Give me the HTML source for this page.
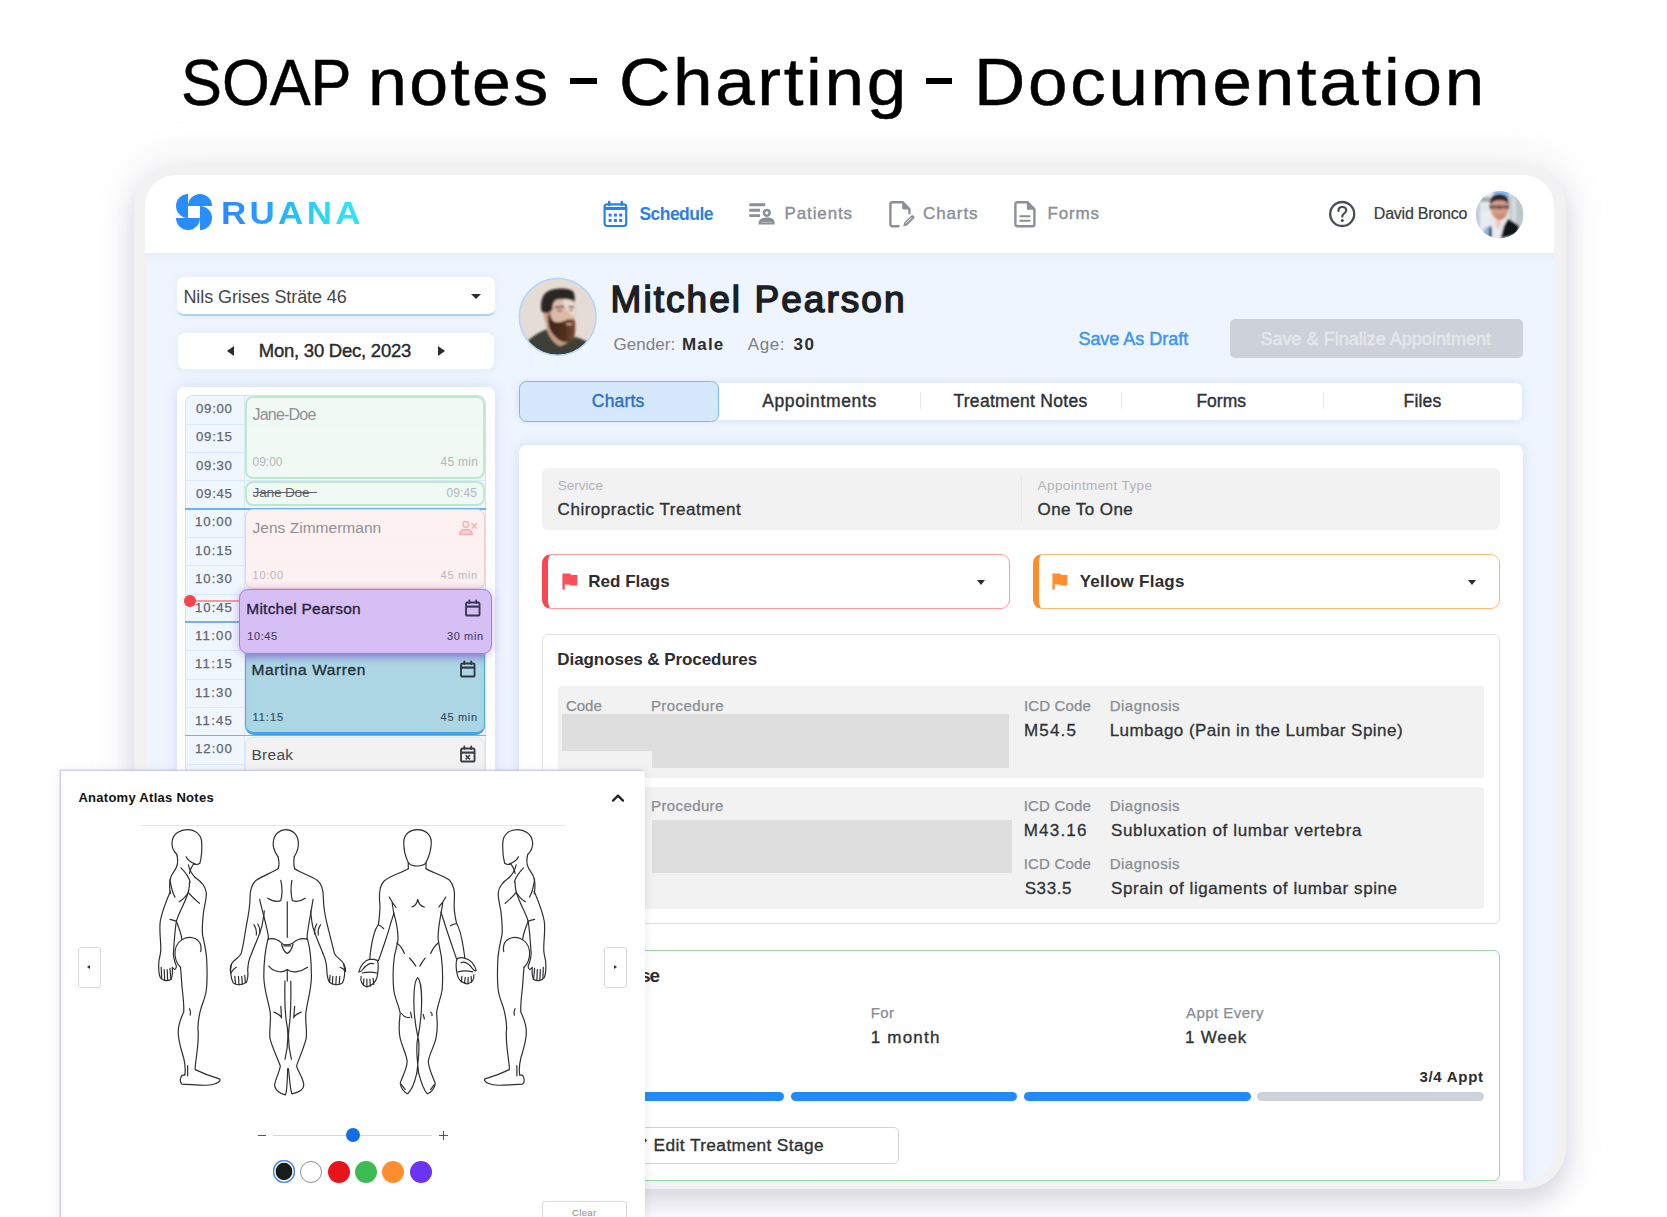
<!DOCTYPE html>
<html lang="en">
<head>
<meta charset="utf-8">
<title>SOAP notes - Charting - Documentation</title>
<style>
*{box-sizing:border-box;margin:0;padding:0}
html,body{width:1667px;height:1217px;overflow:hidden;background:#fff;font-family:"Liberation Sans",sans-serif}
.a{position:absolute}
.t{position:absolute;white-space:pre;font-family:"Liberation Sans",sans-serif}
#frame{position:absolute;left:133.5px;top:164px;width:1432.5px;height:1025px;border-radius:42px;background:#f2f2f3;
  box-shadow:0 14px 22px 0 rgba(140,140,168,.27),0 0 38px 8px rgba(160,160,182,.15)}
#win{position:absolute;left:145px;top:175px;width:1409px;height:1005.5px;border-radius:31px;overflow:hidden;background:#eef5ff}
#wc{position:absolute;left:-145px;top:-175px;width:1667px;height:1217px}
#ov{position:absolute;left:61px;top:770.8px;width:583.7px;height:460px;background:#fff;border-radius:0 3px 0 0;overflow:hidden;
  box-shadow:-1.5px -1.5px 0 0 rgba(203,205,226,.9),0 1px 9px 1px rgba(90,95,130,.13)}
#oc{position:absolute;left:-61px;top:-770.8px;width:1667px;height:1217px}
.hl{position:absolute;left:184.5px;width:301px;height:1px;background:#d9e8fb}
.hb{position:absolute;left:184.5px;width:301px;height:1.6px;background:#6cb2f6}
.blk{position:absolute;border-radius:8px}
</style>
</head>
<body>
<div id="top" class="a" style="left:0;top:0;width:1667px;height:1217px">
<div class="a" style="left:570.4px;top:78.4px;width:26.5px;height:5.4px;background:#000"></div>
<div class="a" style="left:925.7px;top:78.4px;width:26.6px;height:5.4px;background:#000"></div>
<span class="t" style="left:181.21px;top:49.98px;font-size:65px;line-height:65px;font-weight:400;color:#000;letter-spacing:0.000px;-webkit-text-stroke:0.5px #000;transform-origin:0 0;transform:scaleX(0.9443);">SOAP</span>
<span class="t" style="left:368.36px;top:49.13px;font-size:66px;line-height:66px;font-weight:400;color:#000;letter-spacing:2.165px;-webkit-text-stroke:0.5px #000;transform-origin:0 0;transform:scaleX(1.0590);">notes</span>
<span class="t" style="left:618.97px;top:49.13px;font-size:66px;line-height:66px;font-weight:400;color:#000;letter-spacing:2.471px;-webkit-text-stroke:0.5px #000;transform-origin:0 0;transform:scaleX(1.0767);">Charting</span>
<span class="t" style="left:973.82px;top:49.13px;font-size:66px;line-height:66px;font-weight:400;color:#000;letter-spacing:2.541px;-webkit-text-stroke:0.5px #000;transform-origin:0 0;transform:scaleX(1.0753);">Documentation</span>
</div>

<div id="frame"></div>
<div id="win"><div id="wc">
  <!-- header -->
  <div class="a" style="left:145px;top:175px;width:1409px;height:78px;background:#fff"></div>
  <div class="a" style="left:145px;top:253px;width:1409px;height:10px;background:linear-gradient(#e7eefa,#eef5ff)"></div>

  <!-- sidebar: location select -->
  <div class="a" style="left:177px;top:277px;width:318px;height:39px;background:#fff;border-radius:7px;border-bottom:2px solid #add2fa;box-shadow:0 0 8px rgba(100,125,190,.08)"></div>
  <div class="a" style="left:470.6px;top:294.4px;width:0;height:0;border-left:5px solid transparent;border-right:5px solid transparent;border-top:5.4px solid #2c2c2c"></div>
  <!-- date -->
  <div class="a" style="left:177.5px;top:333px;width:316.5px;height:36px;background:#fff;border-radius:7px;box-shadow:0 0 8px rgba(100,125,190,.09)"></div>
  <div class="a" style="left:227px;top:346px;width:0;height:0;border-top:5.4px solid transparent;border-bottom:5.4px solid transparent;border-right:7px solid #2c2c2c"></div>
  <div class="a" style="left:437.6px;top:346px;width:0;height:0;border-top:5.4px solid transparent;border-bottom:5.4px solid transparent;border-left:7px solid #2c2c2c"></div>

  <!-- calendar card -->
  <div class="a" style="left:177px;top:386.5px;width:318px;height:420px;background:#fff;border-radius:8px;box-shadow:0 0 14px rgba(105,125,180,.2)"></div>
  <div class="a" style="left:184.5px;top:395px;width:301px;height:400px;background:#f0f6fe;border:1px solid #cfe3fa;border-radius:8px 8px 0 0"></div>
  <!-- time column separator -->
  <div class="a" style="left:244px;top:396px;width:1px;height:400px;background:#d9e8fb"></div>
  <!-- quarter lines -->
  <div class="hl" style="top:423.5px"></div><div class="hl" style="top:451.8px"></div><div class="hl" style="top:480.2px"></div>
  <div class="hb" style="top:508px"></div>
  <div class="hl" style="top:536.8px"></div><div class="hl" style="top:565.2px"></div><div class="hl" style="top:593.5px"></div>
  <div class="hb" style="top:621.3px"></div>
  <div class="hl" style="top:650.2px"></div><div class="hl" style="top:678.5px"></div><div class="hl" style="top:706.8px"></div>
  <div class="hb" style="top:734.6px"></div>
  <div class="hl" style="top:763.5px"></div>
  <!-- appointment blocks -->
  <div class="blk" style="left:244.5px;top:396px;width:240.3px;height:82.5px;background:rgba(239,249,242,.9);border:2px solid #c0e8ca"></div>
  <div class="blk" style="left:244.5px;top:480.5px;width:240.3px;height:25.5px;background:rgba(239,249,242,.9);border:2px solid #c0e8ca"></div>
  <div class="blk" style="left:244.5px;top:509.3px;width:240.3px;height:79.5px;background:rgba(253,240,240,.94);border:1.6px solid #f9cbcb"></div>
  <div class="blk" style="left:244.5px;top:652px;width:240.6px;height:82.5px;background:#acd6e4;border:1.5px solid #4aaee6;border-bottom:3px solid #3fa5e8;border-radius:4px 4px 9px 9px;box-shadow:inset 0 9px 9px -5px rgba(125,95,205,.55)"></div>
  <div class="blk" style="left:244.5px;top:737px;width:240.6px;height:60px;background:#f2f2f2;border:1px solid #e4e6ea"></div>
  <div class="a" style="left:252.6px;top:491.8px;width:64.4px;height:1.5px;background:#5f6268"></div>
  <!-- now line -->
  <div class="a" style="left:190px;top:600px;width:52px;height:1.5px;background:#f59a9a"></div>
  <div class="a" style="left:184px;top:595px;width:11.5px;height:11.5px;border-radius:50%;background:#f5474b"></div>
  <!-- active block -->
  <div class="blk" style="left:239px;top:589px;width:253px;height:64.5px;background:#d5bff5;border:1.5px solid #a57ce8;border-radius:9px;box-shadow:0 1px 10px rgba(120,80,200,.42)"></div>

  <!-- patient avatar -->
  <svg class="a" style="left:518px;top:277px" width="80" height="80" viewBox="0 0 80 80">
    <defs><clipPath id="c1"><circle cx="39.7" cy="39.8" r="38.2"/></clipPath><filter id="b1" x="-20%" y="-20%" width="140%" height="140%"><feGaussianBlur stdDeviation="0.9"/></filter></defs>
    <g clip-path="url(#c1)"><rect width="80" height="80" fill="#e6dcd6"/>
    <g filter="url(#b1)">
      <!-- shirt -->
      <path d="M4 70 C12 60 20 56 29 52 L38 66 L52 62 L58 60 C66 62 72 66 80 72 L80 82 L0 82 Z" fill="#3c4038"/>
      <!-- neck -->
      <path d="M27 40 L29 53 C32 62 38 68 42 69 C46 68 50 66 52 63 L52 50 Z" fill="#c79e86"/>
      <!-- ear / side -->
      <path d="M25 31 L34 28 L34 46 L28 46 C26 42 25 36 25 31 Z" fill="#c49a83"/>
      <!-- face -->
      <path d="M33 20 C40 17 52 18 57 22 C58 30 58 40 56 48 L36 48 C33 40 32 30 33 20 Z" fill="#dcbba8"/>
      <path d="M44 22 C50 20 56 22 57 26 L57 40 C52 38 47 32 44 22 Z" fill="#ecdcd2"/>
      <!-- hair -->
      <path transform="translate(0,1.3)" d="M23.5 33 C22 24 24 15 32 12 C40 9 52 10 55 13 C57 16 57 20 56.5 24 C53 20 46 21 40 21 C36 22 34.5 25 34.5 31 L33 33 C30 35 26 35 23.5 33 Z" fill="#2a2724"/>
      <!-- brows / eyes -->
      <path d="M37 30.5 L46 29.5 M50.5 29.5 L56 30" stroke="#3a2a22" stroke-width="1.6" fill="none"/>
      <path d="M39 33.6 L44 33.6 M51.5 33.4 L55 33.4" stroke="#4a3a34" stroke-width="1.3" fill="none"/>
      <!-- beard -->
      <defs><linearGradient id="bg1" x1="0" x2="1"><stop offset="0" stop-color="#3e251a"/><stop offset=".6" stop-color="#4f2f20"/><stop offset="1" stop-color="#7a4b33"/></linearGradient></defs><path d="M30.5 36 C32 38 33 41 35 44 C40 47 46 44 50 42.5 C53 42 55 43 57 43 C57.5 49 57.5 56 56 61.5 C52 65.5 48 66 44 64.5 C38 62 33 56 31 50 C30 45 30 40 30.5 36 Z" fill="url(#bg1)"/>
      <path d="M47 47 C50 45.5 53 46 55 47 C53 48.6 50 48.8 47 47 Z" fill="#d4a08c"/>
    </g></g>
    <circle cx="39.7" cy="39.8" r="38.4" fill="none" stroke="#b3d5fb" stroke-width="1.5"/>
  </svg>
  <!-- user avatar -->
  <svg class="a" style="left:1475px;top:189.5px" width="49" height="49" viewBox="0 0 49 49">
    <defs><clipPath id="c2"><circle cx="24.6" cy="24.7" r="23.8"/></clipPath><filter id="b2" x="-20%" y="-20%" width="140%" height="140%"><feGaussianBlur stdDeviation="0.9"/></filter></defs>
    <g clip-path="url(#c2)"><rect width="49" height="49" fill="#e2e8ec"/>
    <g filter="url(#b2)">
      <rect x="0" y="0" width="5" height="49" fill="#c3cede"/>
      <rect x="34.5" y="6" width="15" height="32" fill="#bcc6c8"/><rect x="37" y="8" width="4" height="30" fill="#d6dde0"/>
      <rect x="18.5" y="0" width="15.5" height="9.5" fill="#8cbaf0"/>
      <rect x="5.5" y="7.3" width="10.5" height="4.4" fill="#a3aca9"/>
      <rect x="6" y="22" width="9" height="14" fill="#e9eef1"/>
      <!-- lanyard / blue -->
      <path d="M7.5 44 C9 39 12 36 17 34.5 L17 46 L10 47 Z" fill="#95b2e3"/>
      <!-- shirt -->
      <path d="M16.8 31 L31.5 30 L30 48 L16 48 Z" fill="#e9e9ef"/>
      <path d="M20 30 L27 30 L25 38 L21 38 Z" fill="#efc9c0"/>
      <path d="M14.2 38 L16.6 37 L17 47 L14 47 Z" fill="#2b2f3a"/>
      <!-- blazer -->
      <path d="M33 29 C38 31 42 34 44.5 37 L41 44 L25.5 48.5 L29 35.5 Z" fill="#0f1218"/>
      <!-- face -->
      <path d="M14.8 14 C15 9 19 7.5 24.5 7.5 C30 7.5 34 9.5 34 15 C34 22 31 29.5 25 30 C19.5 30 15 22.5 14.8 14 Z" fill="#d59c87"/>
      <path d="M18.5 23 C21 25 28 25 31 23 C30 27.5 27.5 30 25 30 C22 30 19.5 27 18.5 23 Z" fill="#c98b77"/>
      <!-- hair -->
      <path d="M15 14.5 C14 8 19 4 24.5 4 C30.5 4 34.5 8 33.5 14.5 C32 11.5 29 10.2 24.5 10.2 C20.5 10.2 17 11.5 15 14.5 Z" fill="#2a2426"/>
      <!-- glasses -->
      <rect x="14.6" y="15.6" width="19.5" height="3.2" rx="1" fill="#4d4248"/><rect x="17.2" y="16.6" width="5.6" height="2" fill="#9a6f68"/><rect x="26" y="16.6" width="5.6" height="2" fill="#9a6f68"/>
    </g></g>
  </svg>

  <!-- save button -->
  <div class="a" style="left:1229.5px;top:319px;width:293.5px;height:39px;background:#cdd1d9;border-radius:5px"></div>

  <!-- tabs -->
  <div class="a" style="left:519px;top:382.5px;width:1003px;height:37.5px;background:#fff;border-radius:6px;box-shadow:0 0 8px rgba(100,125,190,.18)"></div>
  <div class="a" style="left:519px;top:381px;width:199.5px;height:40.5px;background:#d5e8fc;border:1.7px solid #79b7f7;border-radius:7.5px"></div>
  <div class="a" style="left:920px;top:392px;width:1px;height:17px;background:#e4e7ec"></div>
  <div class="a" style="left:1121px;top:392px;width:1px;height:17px;background:#e4e7ec"></div>
  <div class="a" style="left:1323px;top:392px;width:1px;height:17px;background:#e4e7ec"></div>

  <!-- main white panel -->
  <div class="a" style="left:519px;top:444.5px;width:1004px;height:760px;background:#fff;border-radius:8px;box-shadow:0 0 14px rgba(105,125,180,.2)"></div>
  <!-- service box -->
  <div class="a" style="left:542px;top:468px;width:957.5px;height:62px;background:#f2f2f2;border-radius:6px"></div>
  <div class="a" style="left:1020.5px;top:476px;width:1px;height:46px;background:#e9e9ea"></div>
  <!-- flags -->
  <div class="a" style="left:542px;top:553.5px;width:467.5px;height:55.5px;background:#fff;border:1.7px solid #fc9c9c;border-left:6.4px solid #f5494f;border-radius:9px"></div>
  <div class="a" style="left:1033px;top:553.5px;width:466.5px;height:55.5px;background:#fff;border:1.7px solid #ffb670;border-left:6.4px solid #fc8d2a;border-radius:9px"></div>
  <div class="a" style="left:977px;top:579.5px;width:0;height:0;border-left:4.5px solid transparent;border-right:4.5px solid transparent;border-top:5px solid #2c2c2c"></div>
  <div class="a" style="left:1467.5px;top:579.5px;width:0;height:0;border-left:4.5px solid transparent;border-right:4.5px solid transparent;border-top:5px solid #2c2c2c"></div>
  <!--FLAGS-->

  <!-- diagnoses -->
  <div class="a" style="left:542px;top:633.5px;width:957.5px;height:290.5px;background:#fff;border:1px solid #dde2ea;border-radius:6px"></div>
  <div class="a" style="left:557.5px;top:686px;width:926.5px;height:92px;background:#f2f2f2;border-radius:3px"></div>
  <div class="a" style="left:557.5px;top:786.5px;width:926.5px;height:122.5px;background:#f2f2f2;border-radius:3px"></div>
  <div class="a" style="left:562px;top:713.5px;width:446.5px;height:37px;background:#dedede"></div>
  <div class="a" style="left:651.5px;top:713.5px;width:357px;height:54px;background:#dedede"></div>
  <div class="a" style="left:651.5px;top:820px;width:360px;height:53px;background:#dedede"></div>

  <!-- treatment phase -->
  <div class="a" style="left:542px;top:949.5px;width:957.5px;height:231px;background:#fff;border:1.8px solid #93d9a4;border-radius:6px"></div>
  <div class="a" style="left:558px;top:1092.3px;width:226px;height:8.8px;border-radius:5px;background:#228bfa"></div>
  <div class="a" style="left:791px;top:1092.3px;width:226px;height:8.8px;border-radius:5px;background:#228bfa"></div>
  <div class="a" style="left:1024px;top:1092.3px;width:227px;height:8.8px;border-radius:5px;background:#228bfa"></div>
  <div class="a" style="left:1257px;top:1092.3px;width:226.5px;height:8.8px;border-radius:5px;background:#cdd2db"></div>
  <div class="a" style="left:604px;top:1126.6px;width:295px;height:37.8px;background:#fff;border:1.5px solid #cfd3db;border-radius:5px"></div>

  <!-- logo pinwheel -->
  <svg class="a" style="left:176px;top:194px" width="36" height="36" viewBox="0 0 36 36"><g fill="#298dff">
    <path d="M12 0 A12 12 0 0 0 12 24 Z"/><path d="M12 12 A12 12 0 0 1 36 12 Z"/><path d="M24 12 A12 12 0 0 1 24 36 Z"/><path d="M0 24 A12 12 0 0 0 24 24 Z"/></g></svg>
  <!-- schedule icon -->
  <svg class="a" style="left:602px;top:199px" width="27" height="30" viewBox="0 0 27 30"><g fill="none" stroke="#2a80ee" stroke-width="2.2" stroke-linejoin="round">
    <rect x="2.6" y="5.4" width="21.6" height="21.6" rx="2.4"/><path d="M2.6 9.4 H24.2" stroke-width="3"/><path d="M7.2 3 V6 M19.8 3 V6" stroke-width="2.6" stroke-linecap="round"/></g>
    <g fill="#2a80ee"><rect x="6.6" y="14.6" width="3" height="3"/><rect x="11.9" y="14.6" width="3" height="3"/><rect x="17.2" y="14.6" width="3" height="3"/><rect x="6.6" y="20" width="3" height="3"/><rect x="11.9" y="20" width="3" height="3"/><rect x="17.2" y="20" width="3" height="3"/></g></svg>
  <!-- patients icon -->
  <svg class="a" style="left:748px;top:202px" width="28" height="24" viewBox="0 0 28 24"><g fill="none" stroke="#8b8f96" stroke-width="2.9">
    <path d="M1.3 2.8 H17.2 M1.3 8.2 H12 M1.3 13.6 H12"/><circle cx="18.8" cy="10.8" r="2.9" stroke-width="2.5"/></g>
    <path d="M10.6 22.4 V20.6 C10.6 17.2 14 15.4 18.8 15.4 C23.6 15.4 26.6 17.2 26.6 20.6 V22.4 Z" fill="#8b8f96"/><path d="M13.6 20.4 H23.8" stroke="#b9bcc2" stroke-width="1"/></svg>
  <!-- charts icon -->
  <svg class="a" style="left:887px;top:199px" width="30" height="30" viewBox="0 0 30 30"><g fill="none" stroke="#8b8f96" stroke-width="2.4" stroke-linejoin="round" stroke-linecap="round">
    <path d="M11.5 27.2 H5.4 Q3.4 27.2 3.4 25.2 V5.2 Q3.4 3.2 5.4 3.2 H15.6 L22.4 10 V14.2"/></g>
    <path d="M15.2 3.6 L22 10.4 H16.6 Q15.2 10.4 15.2 9 Z" fill="#8b8f96"/>
    <path d="M16.2 27.6 L17.2 23.4 L24.4 16.4 Q25.4 15.6 26.4 16.6 L27.2 17.4 Q28 18.4 27.2 19.2 L20 26.4 Z" fill="#8b8f96"/><path d="M18.6 24.6 L24.6 18.6" stroke="#fff" stroke-width="0.9"/></svg>
  <!-- forms icon -->
  <svg class="a" style="left:1012px;top:199px" width="26" height="30" viewBox="0 0 26 30"><g fill="none" stroke="#8b8f96" stroke-width="2.4" stroke-linejoin="round">
    <path d="M5.4 3.2 H15.4 L22.4 10.2 V25.2 Q22.4 27.2 20.4 27.2 H5.4 Q3.4 27.2 3.4 25.2 V5.2 Q3.4 3.2 5.4 3.2 Z"/><path d="M7.4 17.2 H18.4 M7.4 21.8 H18.4" stroke-width="2"/></g>
    <path d="M14.8 3.6 L22 10.8 H16.2 Q14.8 10.8 14.8 9.4 Z" fill="#8b8f96"/></svg>
  <!-- help icon -->
  <svg class="a" style="left:1327px;top:199px" width="30" height="30" viewBox="0 0 30 30"><circle cx="15.2" cy="15" r="12" fill="none" stroke="#474c55" stroke-width="2.3"/>
    <path d="M11.4 12 C11.4 9.4 13.2 8 15.3 8 C17.6 8 19.2 9.4 19.2 11.4 C19.2 14.2 15.3 14.4 15.3 17.6" fill="none" stroke="#474c55" stroke-width="2.2" stroke-linecap="round"/><circle cx="15.3" cy="21.6" r="1.5" fill="#474c55"/></svg>
  <!-- flags -->
  <svg class="a" style="left:561px;top:572px" width="18" height="19" viewBox="0 0 18 19"><path d="M1.4 1.4 V17.6 H3.8 V12.4 H8.6 L9.2 13.6 H16.4 V3 H10 L9.4 1.6 H3.8 V1.4 Z" fill="#fb5058"/></svg>
  <svg class="a" style="left:1051px;top:572px" width="18" height="19" viewBox="0 0 18 19"><path d="M1.4 1.4 V17.6 H3.8 V12.4 H8.6 L9.2 13.6 H16.4 V3 H10 L9.4 1.6 H3.8 V1.4 Z" fill="#fd8f2e"/></svg>
  <!-- appointment calendar icons -->
  <svg class="a" style="left:464px;top:599px" width="17.6" height="19" viewBox="0 0 19 19" preserveAspectRatio="none"><g fill="none" stroke="#3b3452" stroke-width="2" stroke-linejoin="round"><rect x="2.2" y="3.6" width="14.6" height="13" rx="1.6"/><path d="M2.2 7.6 H16.8" stroke-width="2.2"/><path d="M5.8 1.4 V4 M13.2 1.4 V4" stroke-linecap="round"/></g></svg>
  <svg class="a" style="left:458.5px;top:659.5px" width="17.6" height="19" viewBox="0 0 19 19" preserveAspectRatio="none"><g fill="none" stroke="#2d3a42" stroke-width="2" stroke-linejoin="round"><rect x="2.2" y="3.6" width="14.6" height="13" rx="1.6"/><path d="M2.2 7.6 H16.8" stroke-width="2.2"/><path d="M5.8 1.4 V4 M13.2 1.4 V4" stroke-linecap="round"/></g></svg>
  <svg class="a" style="left:458.5px;top:745px" width="17.6" height="19" viewBox="0 0 19 19" preserveAspectRatio="none"><g fill="none" stroke="#3a3d42" stroke-width="2" stroke-linejoin="round"><rect x="2.2" y="3.6" width="14.6" height="13" rx="1.6"/><path d="M2.2 7.6 H16.8" stroke-width="2.2"/><path d="M5.8 1.4 V4 M13.2 1.4 V4" stroke-linecap="round"/><path d="M7.2 10.2 L11.8 14.4 M11.8 10.2 L7.2 14.4" stroke-width="1.6"/></g></svg>
  <!-- no-show person icon -->
  <svg class="a" style="left:457.5px;top:519.5px" width="21" height="16" viewBox="0 0 21 16"><g fill="none" stroke="#f9b3b5" stroke-width="1.5" stroke-linecap="round" stroke-linejoin="round"><circle cx="7.8" cy="4.4" r="2.8"/><path d="M1.6 14.4 C1.6 10.8 4 9.6 7.8 9.6 C11.6 9.6 14.2 10.8 14.2 14.4 Z" fill="#fac3c5"/><path d="M14 3.6 L18.6 8.2 M18.6 3.6 L14 8.2"/></g><path d="M4.6 12.2 H11.2" stroke="#fde3e3" stroke-width="1.1"/></svg>
  <!-- pencil (edit treatment stage) -->
  <svg class="a" style="left:634px;top:1135px" width="16" height="16" viewBox="0 0 16 16"><path d="M2 14 L3 10.4 L10.6 2.8 L13.2 5.4 L5.6 13 Z" fill="#3a3d42"/></svg>
<span class="t" style="left:220.76px;top:197.80px;font-size:31.3px;line-height:31.3px;font-weight:700;color:#2b8cf7;letter-spacing:2.927px;background:linear-gradient(90deg,#2a88ff 0%,#2a9cff 30%,#29c6fa 55%,#2bdff5 80%,#30e6f4 100%);-webkit-background-clip:text;background-clip:text;color:transparent;transform-origin:0 0;transform:scaleX(1.1186);">RUANA</span>
<span class="t" style="left:639.40px;top:205.79px;font-size:17.5px;line-height:17.5px;font-weight:700;color:#2b7fe3;letter-spacing:-0.524px;">Schedule</span>
<span class="t" style="left:784.50px;top:205.41px;font-size:17px;line-height:17px;font-weight:400;color:#8b8f96;letter-spacing:0.882px;-webkit-text-stroke:0.4px #8b8f96;">Patients</span>
<span class="t" style="left:923.00px;top:205.41px;font-size:17px;line-height:17px;font-weight:400;color:#8b8f96;letter-spacing:0.886px;-webkit-text-stroke:0.4px #8b8f96;">Charts</span>
<span class="t" style="left:1047.50px;top:205.41px;font-size:17px;line-height:17px;font-weight:400;color:#8b8f96;letter-spacing:0.860px;-webkit-text-stroke:0.4px #8b8f96;">Forms</span>
<span class="t" style="left:1373.80px;top:206.06px;font-size:16px;line-height:16px;font-weight:400;color:#3a3a3a;letter-spacing:-0.223px;-webkit-text-stroke:0.2px #3a3a3a;">David Bronco</span>
<span class="t" style="left:183.40px;top:287.56px;font-size:18px;line-height:18px;font-weight:400;color:#464646;letter-spacing:-0.082px;">Nils Grises Sträte 46</span>
<span class="t" style="left:258.80px;top:341.74px;font-size:18.5px;line-height:18.5px;font-weight:400;color:#2a2a2a;letter-spacing:-0.239px;-webkit-text-stroke:0.4px #2a2a2a;">Mon, 30 Dec, 2023</span>
<span class="t" style="left:610.50px;top:281.48px;font-size:37px;line-height:37px;font-weight:400;color:#1c2024;letter-spacing:2.056px;-webkit-text-stroke:1.5px #1c2024;">Mitchel Pearson</span>
<span class="t" style="left:613.40px;top:336.11px;font-size:17px;line-height:17px;font-weight:400;color:#7d8086;letter-spacing:0.050px;">Gender:</span>
<span class="t" style="left:682.00px;top:336.11px;font-size:17px;line-height:17px;font-weight:700;color:#2b2d31;letter-spacing:1.154px;">Male</span>
<span class="t" style="left:747.80px;top:336.11px;font-size:17px;line-height:17px;font-weight:400;color:#7d8086;letter-spacing:0.584px;">Age:</span>
<span class="t" style="left:793.40px;top:336.11px;font-size:17px;line-height:17px;font-weight:700;color:#2b2d31;letter-spacing:1.645px;">30</span>
<span class="t" style="left:1078.40px;top:330.06px;font-size:18px;line-height:18px;font-weight:400;color:#3f93f3;letter-spacing:-0.020px;-webkit-text-stroke:0.45px #3f93f3;">Save As Draft</span>
<span class="t" style="left:1260.50px;top:330.06px;font-size:18px;line-height:18px;font-weight:400;color:#e6e8ec;letter-spacing:0.014px;-webkit-text-stroke:0.4px #e6e8ec;">Save &amp; Finalize Appointment</span>
<span class="t" style="left:591.80px;top:392.89px;font-size:17.5px;line-height:17.5px;font-weight:400;color:#2f6fc0;letter-spacing:0.201px;-webkit-text-stroke:0.4px #2f6fc0;">Charts</span>
<span class="t" style="left:762.20px;top:392.89px;font-size:17.5px;line-height:17.5px;font-weight:400;color:#303236;letter-spacing:0.631px;-webkit-text-stroke:0.4px #303236;">Appointments</span>
<span class="t" style="left:953.40px;top:392.89px;font-size:17.5px;line-height:17.5px;font-weight:400;color:#303236;letter-spacing:0.298px;-webkit-text-stroke:0.4px #303236;">Treatment Notes</span>
<span class="t" style="left:1196.40px;top:392.89px;font-size:17.5px;line-height:17.5px;font-weight:400;color:#303236;letter-spacing:0.018px;-webkit-text-stroke:0.4px #303236;">Forms</span>
<span class="t" style="left:1403.60px;top:392.89px;font-size:17.5px;line-height:17.5px;font-weight:400;color:#303236;letter-spacing:0.150px;-webkit-text-stroke:0.4px #303236;">Files</span>
<span class="t" style="left:557.70px;top:478.97px;font-size:13.5px;line-height:13.5px;font-weight:400;color:#b0b2b7;letter-spacing:0.032px;">Service</span>
<span class="t" style="left:557.60px;top:500.61px;font-size:17px;line-height:17px;font-weight:400;color:#303236;letter-spacing:0.527px;-webkit-text-stroke:0.35px #303236;">Chiropractic Treatment</span>
<span class="t" style="left:1037.60px;top:478.97px;font-size:13.5px;line-height:13.5px;font-weight:400;color:#b0b2b7;letter-spacing:0.386px;">Appointment Type</span>
<span class="t" style="left:1037.60px;top:500.61px;font-size:17px;line-height:17px;font-weight:400;color:#303236;letter-spacing:0.421px;-webkit-text-stroke:0.35px #303236;">One To One</span>
<span class="t" style="left:588.30px;top:572.61px;font-size:17px;line-height:17px;font-weight:700;color:#2b2d31;letter-spacing:0.014px;">Red Flags</span>
<span class="t" style="left:1079.70px;top:572.61px;font-size:17px;line-height:17px;font-weight:700;color:#2b2d31;letter-spacing:0.247px;">Yellow Flags</span>
<span class="t" style="left:557.30px;top:650.61px;font-size:17px;line-height:17px;font-weight:700;color:#2b2d31;letter-spacing:-0.066px;">Diagnoses &amp; Procedures</span>
<span class="t" style="left:565.90px;top:697.90px;font-size:15px;line-height:15px;font-weight:400;color:#888c93;letter-spacing:0.028px;-webkit-text-stroke:0.25px #888c93;">Code</span>
<span class="t" style="left:650.90px;top:697.90px;font-size:15px;line-height:15px;font-weight:400;color:#888c93;letter-spacing:0.429px;-webkit-text-stroke:0.25px #888c93;">Procedure</span>
<span class="t" style="left:1024.00px;top:697.90px;font-size:15px;line-height:15px;font-weight:400;color:#888c93;letter-spacing:0.140px;-webkit-text-stroke:0.25px #888c93;">ICD Code</span>
<span class="t" style="left:1109.70px;top:697.90px;font-size:15px;line-height:15px;font-weight:400;color:#888c93;letter-spacing:0.492px;-webkit-text-stroke:0.25px #888c93;">Diagnosis</span>
<span class="t" style="left:1024.00px;top:722.11px;font-size:17px;line-height:17px;font-weight:400;color:#303236;letter-spacing:1.152px;-webkit-text-stroke:0.3px #303236;">M54.5</span>
<span class="t" style="left:1109.70px;top:722.11px;font-size:17px;line-height:17px;font-weight:400;color:#303236;letter-spacing:0.455px;-webkit-text-stroke:0.3px #303236;">Lumbago (Pain in the Lumbar Spine)</span>
<span class="t" style="left:651.00px;top:797.50px;font-size:15px;line-height:15px;font-weight:400;color:#888c93;letter-spacing:0.392px;-webkit-text-stroke:0.25px #888c93;">Procedure</span>
<span class="t" style="left:1023.70px;top:797.50px;font-size:15px;line-height:15px;font-weight:400;color:#888c93;letter-spacing:0.183px;-webkit-text-stroke:0.25px #888c93;">ICD Code</span>
<span class="t" style="left:1109.70px;top:797.50px;font-size:15px;line-height:15px;font-weight:400;color:#888c93;letter-spacing:0.492px;-webkit-text-stroke:0.25px #888c93;">Diagnosis</span>
<span class="t" style="left:1023.70px;top:821.61px;font-size:17px;line-height:17px;font-weight:400;color:#303236;letter-spacing:1.210px;-webkit-text-stroke:0.3px #303236;">M43.16</span>
<span class="t" style="left:1111.00px;top:821.61px;font-size:17px;line-height:17px;font-weight:400;color:#303236;letter-spacing:0.653px;-webkit-text-stroke:0.3px #303236;">Subluxation of lumbar vertebra</span>
<span class="t" style="left:1023.70px;top:855.50px;font-size:15px;line-height:15px;font-weight:400;color:#888c93;letter-spacing:0.183px;-webkit-text-stroke:0.25px #888c93;">ICD Code</span>
<span class="t" style="left:1109.70px;top:855.50px;font-size:15px;line-height:15px;font-weight:400;color:#888c93;letter-spacing:0.492px;-webkit-text-stroke:0.25px #888c93;">Diagnosis</span>
<span class="t" style="left:1024.70px;top:879.61px;font-size:17px;line-height:17px;font-weight:400;color:#303236;letter-spacing:0.582px;-webkit-text-stroke:0.3px #303236;">S33.5</span>
<span class="t" style="left:1111.00px;top:879.61px;font-size:17px;line-height:17px;font-weight:400;color:#303236;letter-spacing:0.576px;-webkit-text-stroke:0.3px #303236;">Sprain of ligaments of lumbar spine</span>
<span class="t" style="left:640.00px;top:965.92px;font-size:19px;line-height:19px;font-weight:700;color:#2b2d31;letter-spacing:-0.967px;">se</span>
<span class="t" style="left:870.70px;top:1005.30px;font-size:15px;line-height:15px;font-weight:400;color:#888c93;letter-spacing:0.398px;-webkit-text-stroke:0.25px #888c93;">For</span>
<span class="t" style="left:870.70px;top:1029.11px;font-size:17px;line-height:17px;font-weight:400;color:#303236;letter-spacing:1.221px;-webkit-text-stroke:0.35px #303236;">1 month</span>
<span class="t" style="left:1186.00px;top:1005.30px;font-size:15px;line-height:15px;font-weight:400;color:#888c93;letter-spacing:0.459px;-webkit-text-stroke:0.25px #888c93;">Appt Every</span>
<span class="t" style="left:1185.00px;top:1029.11px;font-size:17px;line-height:17px;font-weight:400;color:#303236;letter-spacing:0.775px;-webkit-text-stroke:0.35px #303236;">1 Week</span>
<span class="t" style="left:1419.40px;top:1069.30px;font-size:15px;line-height:15px;font-weight:700;color:#2b2d31;letter-spacing:0.718px;">3/4 Appt</span>
<span class="t" style="left:653.60px;top:1137.16px;font-size:17.3px;line-height:17.3px;font-weight:400;color:#303236;letter-spacing:0.403px;-webkit-text-stroke:0.35px #303236;">Edit Treatment Stage</span>
<span class="t" style="left:196.00px;top:401.93px;font-size:13.2px;line-height:13.2px;font-weight:400;color:#62666c;letter-spacing:0.733px;-webkit-text-stroke:0.25px #62666c;">09:00</span>
<span class="t" style="left:196.00px;top:430.31px;font-size:13.2px;line-height:13.2px;font-weight:400;color:#62666c;letter-spacing:0.733px;-webkit-text-stroke:0.25px #62666c;">09:15</span>
<span class="t" style="left:196.00px;top:458.69px;font-size:13.2px;line-height:13.2px;font-weight:400;color:#62666c;letter-spacing:0.733px;-webkit-text-stroke:0.25px #62666c;">09:30</span>
<span class="t" style="left:196.00px;top:487.07px;font-size:13.2px;line-height:13.2px;font-weight:400;color:#62666c;letter-spacing:0.733px;-webkit-text-stroke:0.25px #62666c;">09:45</span>
<span class="t" style="left:195.00px;top:515.45px;font-size:13.2px;line-height:13.2px;font-weight:400;color:#62666c;letter-spacing:0.983px;-webkit-text-stroke:0.25px #62666c;">10:00</span>
<span class="t" style="left:195.00px;top:543.83px;font-size:13.2px;line-height:13.2px;font-weight:400;color:#62666c;letter-spacing:0.983px;-webkit-text-stroke:0.25px #62666c;">10:15</span>
<span class="t" style="left:195.00px;top:572.21px;font-size:13.2px;line-height:13.2px;font-weight:400;color:#62666c;letter-spacing:0.983px;-webkit-text-stroke:0.25px #62666c;">10:30</span>
<span class="t" style="left:195.00px;top:600.59px;font-size:13.2px;line-height:13.2px;font-weight:400;color:#62666c;letter-spacing:0.983px;-webkit-text-stroke:0.25px #62666c;">10:45</span>
<span class="t" style="left:195.00px;top:628.97px;font-size:13.2px;line-height:13.2px;font-weight:400;color:#62666c;letter-spacing:1.228px;-webkit-text-stroke:0.25px #62666c;">11:00</span>
<span class="t" style="left:195.00px;top:657.35px;font-size:13.2px;line-height:13.2px;font-weight:400;color:#62666c;letter-spacing:1.228px;-webkit-text-stroke:0.25px #62666c;">11:15</span>
<span class="t" style="left:195.00px;top:685.73px;font-size:13.2px;line-height:13.2px;font-weight:400;color:#62666c;letter-spacing:1.228px;-webkit-text-stroke:0.25px #62666c;">11:30</span>
<span class="t" style="left:195.00px;top:714.11px;font-size:13.2px;line-height:13.2px;font-weight:400;color:#62666c;letter-spacing:1.228px;-webkit-text-stroke:0.25px #62666c;">11:45</span>
<span class="t" style="left:195.00px;top:742.49px;font-size:13.2px;line-height:13.2px;font-weight:400;color:#62666c;letter-spacing:0.983px;-webkit-text-stroke:0.25px #62666c;">12:00</span>
<span class="t" style="left:252.60px;top:407.46px;font-size:16px;line-height:16px;font-weight:400;color:#8d9096;letter-spacing:-0.811px;">Jane-Doe</span>
<span class="t" style="left:252.60px;top:455.84px;font-size:12px;line-height:12px;font-weight:400;color:#b3b6bb;letter-spacing:-0.039px;">09:00</span>
<span class="t" style="left:440.50px;top:455.84px;font-size:12px;line-height:12px;font-weight:400;color:#b3b6bb;letter-spacing:0.271px;">45 min</span>
<span class="t" style="left:252.60px;top:486.10px;font-size:13.7px;line-height:13.7px;font-weight:400;color:#5f6268;letter-spacing:-0.226px;">Jane Doe</span>
<span class="t" style="left:446.40px;top:487.04px;font-size:12px;line-height:12px;font-weight:400;color:#b3b6bb;letter-spacing:0.111px;">09:45</span>
<span class="t" style="left:252.50px;top:519.88px;font-size:15.5px;line-height:15.5px;font-weight:400;color:#8d9096;letter-spacing:0.027px;">Jens Zimmermann</span>
<span class="t" style="left:252.50px;top:570.19px;font-size:11px;line-height:11px;font-weight:400;color:#b9b4b6;letter-spacing:0.773px;">10:00</span>
<span class="t" style="left:440.60px;top:570.19px;font-size:11px;line-height:11px;font-weight:400;color:#b9b4b6;letter-spacing:0.700px;">45 min</span>
<span class="t" style="left:246.30px;top:601.38px;font-size:15.5px;line-height:15.5px;font-weight:400;color:#2a2340;letter-spacing:0.228px;-webkit-text-stroke:0.35px #2a2340;">Mitchel Pearson</span>
<span class="t" style="left:247.30px;top:630.69px;font-size:11px;line-height:11px;font-weight:400;color:#4a3f6b;letter-spacing:0.573px;-webkit-text-stroke:0.15px #4a3f6b;">10:45</span>
<span class="t" style="left:446.90px;top:630.69px;font-size:11px;line-height:11px;font-weight:400;color:#4a3f6b;letter-spacing:0.640px;-webkit-text-stroke:0.15px #4a3f6b;">30 min</span>
<span class="t" style="left:251.50px;top:661.88px;font-size:15.5px;line-height:15.5px;font-weight:400;color:#22323a;letter-spacing:0.584px;-webkit-text-stroke:0.35px #22323a;">Martina Warren</span>
<span class="t" style="left:252.50px;top:712.19px;font-size:11px;line-height:11px;font-weight:400;color:#33505c;letter-spacing:0.977px;-webkit-text-stroke:0.15px #33505c;">11:15</span>
<span class="t" style="left:440.60px;top:712.19px;font-size:11px;line-height:11px;font-weight:400;color:#33505c;letter-spacing:0.700px;-webkit-text-stroke:0.15px #33505c;">45 min</span>
<span class="t" style="left:251.50px;top:746.88px;font-size:15.5px;line-height:15.5px;font-weight:400;color:#45484d;letter-spacing:0.265px;">Break</span>
</div></div>

<!-- anatomy overlay -->
<div id="ov"><div id="oc">
  <div class="a" style="left:140.5px;top:825px;width:424.5px;height:1px;background:#e4e4e6"></div>
  <div class="a" style="left:77.5px;top:947px;width:23px;height:40.5px;border:1.3px solid #d3d8e3;border-radius:3px;background:#fff"></div>
  <div class="a" style="left:604px;top:947px;width:23px;height:40.5px;border:1.3px solid #d3d8e3;border-radius:3px;background:#fff"></div>
  <div class="a" style="left:87px;top:964.5px;width:0;height:0;border-top:2.5px solid transparent;border-bottom:2.5px solid transparent;border-right:3.5px solid #333"></div>
  <div class="a" style="left:614px;top:964.5px;width:0;height:0;border-top:2.5px solid transparent;border-bottom:2.5px solid transparent;border-left:3.5px solid #333"></div>
  <!-- slider -->
  <div class="a" style="left:273px;top:1134.5px;width:158.5px;height:1px;background:#d5d8de"></div>
  <div class="a" style="left:346px;top:1128px;width:14px;height:14px;border-radius:50%;background:#126ee4"></div>
  <div class="a" style="left:257.5px;top:1134.5px;width:8px;height:1.2px;background:#555"></div>
  <div class="a" style="left:439px;top:1134.5px;width:8.5px;height:1.2px;background:#555"></div>
  <div class="a" style="left:442.6px;top:1131px;width:1.2px;height:8.5px;background:#555"></div>
  <!-- colours -->
  <div class="a" style="left:272.6px;top:1160px;width:22.8px;height:22.8px;border-radius:50%;background:#1a1b1e;box-shadow:inset 0 0 0 1.3px #3d8ef0,inset 0 0 0 2.7px #fff"></div>
  <div class="a" style="left:300.4px;top:1160.5px;width:22px;height:22px;border-radius:50%;background:#fff;border:1.3px solid #8d9096"></div>
  <div class="a" style="left:327.7px;top:1160.5px;width:22px;height:22px;border-radius:50%;background:#e8131b"></div>
  <div class="a" style="left:354.9px;top:1160.5px;width:22px;height:22px;border-radius:50%;background:#3cba54"></div>
  <div class="a" style="left:382.2px;top:1160.5px;width:22px;height:22px;border-radius:50%;background:#ff8f2e"></div>
  <div class="a" style="left:409.8px;top:1160.5px;width:22px;height:22px;border-radius:50%;background:#6a35f2"></div>
  <!-- clear -->
  <div class="a" style="left:542px;top:1201px;width:85px;height:30px;border:1.3px solid #d3d8e3;border-radius:3px;background:#fff"></div>
  <!-- chevron -->
  <svg class="a" style="left:610.2px;top:790.8px" width="16" height="14" viewBox="0 0 16 14"><path d="M3 9.6 L8 4.6 L13 9.6" fill="none" stroke="#222" stroke-width="2.2" stroke-linecap="round" stroke-linejoin="round"/></svg>
  <!-- figures 1 (side), 2 (back) and 4 (mirrored side) : viewBox in 4.345x zoomed coords, origin (140,820) -->
  <svg class="a" style="left:140px;top:820px;overflow:visible" width="220" height="280" viewBox="0 0 956 1217">
    <defs><g id="side" fill="none" stroke="#2e2e33" stroke-width="5.2" stroke-linecap="round" stroke-linejoin="round">
      <path d="M160 150 C145 135 135 115 140 90 C145 60 175 42 205 42 C240 42 265 62 268 95 C270 130 268 160 260 188 C250 196 240 194 232 190"/>
      <path d="M200 160 C210 178 222 186 240 190"/>
      <path d="M160 150 C165 170 165 190 158 205 C150 225 135 235 132 255"/>
      <path d="M232 192 C225 205 215 215 215 232"/>
      <path d="M178 208 C195 225 212 245 218 270"/>
      <path d="M210 195 C215 215 225 235 240 250"/>
      <path d="M240 250 C262 265 285 290 288 315 C290 340 280 370 276 400 C272 440 268 470 272 500 C280 540 288 570 290 610 C292 660 292 710 288 740 C284 775 268 800 262 830 C255 860 250 880 252 910 C256 950 250 990 245 1030 C242 1055 238 1075 240 1085 C270 1100 310 1115 345 1125 C352 1130 345 1140 330 1145 C300 1158 260 1152 182 1148 C172 1140 174 1120 182 1110 L195 1108"/>
      <path d="M195 1108 C198 1085 196 1060 190 1035 C180 1000 165 960 166 920 C166 890 178 860 190 835 C192 800 186 760 182 720 C180 690 178 660 176 640"/>
      <path d="M207 1068 L207 1112"/>
      <path d="M215 820 C220 830 222 838 218 848"/>
      <path d="M176 640 C160 625 150 600 152 570 C156 540 175 520 200 512 C230 505 258 520 264 545 C266 558 266 565 264 572"/>
      <path d="M132 255 C126 280 128 300 132 320"/>
      <path d="M132 310 C115 350 95 400 88 440 C82 480 92 530 90 570 C88 590 84 600 82 615 C80 640 82 670 88 685 C100 700 120 702 135 692"/>
      <path d="M92 640 L94 685 M105 650 L107 695 M118 650 L120 695 M130 645 L134 690"/>
      <path d="M135 692 C140 680 142 660 140 640 C150 655 158 650 158 635 C150 615 145 600 145 580 C148 540 150 490 158 440 C150 436 140 434 130 432"/>
      <path d="M158 440 C170 400 190 370 200 340 C210 320 215 300 215 270"/>
      <path d="M170 355 C190 345 200 330 210 315 C225 335 245 350 258 362"/>
      <path d="M130 260 C135 290 140 315 152 335"/>
      <path d="M158 440 C170 470 180 500 182 520"/>
    </g></defs>
    <use href="#side"/>
    <use href="#side" transform="translate(1845,0) scale(-1,1)"/>
    <g fill="none" stroke="#2e2e33" stroke-width="5.2" stroke-linecap="round" stroke-linejoin="round">
      <path d="M600 160 C585 140 575 115 580 90 C585 58 610 42 633 42 C660 42 685 60 688 95 C690 120 680 145 670 160"/>
      <path d="M600 160 C605 180 605 200 600 212 M670 160 C668 180 668 200 672 212"/>
      <path d="M600 212 C570 230 530 245 505 262 C485 278 478 310 478 340 C478 380 470 420 462 460 C455 500 450 540 440 580 C430 600 410 605 398 625 C392 640 390 655 395 665"/>
      <path d="M395 665 C400 655 410 645 418 640"/>
      <path d="M398 625 C390 650 395 690 405 708 C420 720 445 718 462 705 C470 690 470 670 468 650 C470 620 475 600 485 580"/>
      <path d="M412 680 L415 712 M428 680 L430 716 M442 680 L445 714 M455 675 L458 706"/>
      <path d="M485 580 C500 540 520 500 530 460 C535 430 540 410 540 395"/>
      <path d="M520 345 C530 390 545 440 555 490 C558 505 558 510 558 518"/>
      <path d="M495 455 C505 470 508 485 505 500 M512 452 C520 465 522 480 520 495"/>
      <path d="M672 212 C700 230 745 245 770 262 C790 278 797 310 797 340 C797 380 805 420 815 460 C825 500 835 540 845 580 C855 600 875 605 885 625 C892 640 895 650 893 658"/>
      <path d="M893 658 C888 650 880 644 870 640"/>
      <path d="M885 625 C893 650 890 690 880 708 C865 720 840 718 823 705 C815 690 812 670 812 650 C810 620 805 600 795 580"/>
      <path d="M868 680 L866 712 M853 680 L851 716 M838 680 L836 714 M826 675 L824 706"/>
      <path d="M795 580 C780 540 760 500 750 460 C745 430 742 410 742 395"/>
      <path d="M752 345 C745 390 735 440 728 490 C726 505 726 510 726 518"/>
      <path d="M785 455 C775 470 772 485 775 500 M768 452 C760 465 758 480 760 495"/>
      <path d="M612 262 C618 290 620 320 612 350 C595 358 575 352 555 340 M660 262 C655 290 655 320 662 350 C680 358 700 352 718 340"/>
      <path d="M640 356 L640 510"/>
      <path d="M556 518 C580 512 600 520 615 535 C625 545 650 545 665 535 C680 520 700 512 728 518"/>
      <path d="M615 540 C620 560 630 575 640 580 C650 575 660 560 665 540 M625 547 L655 547"/>
      <path d="M556 518 C545 560 538 620 538 680 C538 730 555 780 565 830 C572 870 560 910 565 950 C575 990 600 1040 610 1070 C605 1100 590 1120 585 1150 C585 1175 610 1190 632 1195 C640 1180 640 1120 642 1080"/>
      <path d="M728 518 C740 560 745 620 745 680 C745 730 730 780 722 830 C715 870 728 910 722 950 C712 990 690 1040 680 1070 C690 1100 708 1120 712 1150 C712 1175 690 1185 660 1190 C652 1170 650 1120 645 1080"/>
      <path d="M560 635 C580 660 620 668 640 650 C660 668 700 660 728 640"/>
      <path d="M640 650 L640 700 M630 700 C628 780 630 850 640 900 C645 940 640 1000 630 1040 M655 700 C657 780 655 850 648 900 C643 940 648 1000 658 1040"/>
      <path d="M582 835 C595 840 605 845 612 855 M612 810 L615 860 M700 835 C688 840 678 845 670 855 M672 810 L668 860"/>
    </g>
  </svg>
  <!-- figure 3 (front) : origin (345,820) -->
  <svg class="a" style="left:345px;top:820px;overflow:visible" width="220" height="280" viewBox="0 0 956 1217">
    <g fill="none" stroke="#2e2e33" stroke-width="5.2" stroke-linecap="round" stroke-linejoin="round">
      <path d="M275 185 C262 160 255 125 255 95 C258 58 285 42 315 42 C345 42 372 58 375 95 C375 125 365 160 352 185 C340 205 290 205 275 185"/>
      <path d="M275 185 L275 212 M352 185 L352 212"/>
      <path d="M275 212 C250 228 200 240 170 265 C150 285 148 320 150 350 C155 380 150 420 145 455 C125 480 115 540 110 580 C108 595 108 600 108 605"/>
      <path d="M352 212 C378 228 425 240 455 262 C475 285 478 320 475 350 C472 380 478 420 485 450 C505 480 512 540 518 580 C520 590 520 595 520 600"/>
      <path d="M145 455 C155 460 162 465 168 472 M485 450 C475 452 465 455 458 460"/>
      <path d="M108 605 C85 610 65 635 60 660 C70 665 75 650 85 640 M70 680 C65 700 75 720 95 725 C115 722 135 705 140 680 C145 650 145 620 140 610 C130 605 118 605 108 605"/>
      <path d="M85 640 C100 625 115 620 125 625 M75 665 C95 660 120 660 138 665 M82 690 L80 718 M95 692 L95 724 M108 692 L110 722 M122 688 L125 715"/>
      <path d="M145 612 C160 570 185 500 198 450 C205 430 210 415 212 405"/>
      <path d="M520 600 C545 605 565 630 570 655 C560 660 555 645 545 635 M560 672 C562 692 552 708 530 712 C510 708 492 695 488 672 C482 645 482 615 488 602 C498 598 510 598 520 600"/>
      <path d="M545 635 C530 620 515 615 505 620 M555 660 C535 655 510 655 492 660 M548 680 L550 705 M535 684 L535 712 M522 684 L520 710 M508 680 L505 704"/>
      <path d="M485 605 C470 560 445 490 430 440 C425 425 420 410 418 400"/>
      <path d="M192 335 C200 350 208 365 222 380 M205 360 C208 380 210 395 212 405 M438 335 C430 350 420 365 408 378 M425 360 C422 378 420 390 418 400"/>
      <path d="M290 378 C305 375 312 365 316 345 C320 365 328 375 345 378"/>
      <path d="M212 405 C222 440 232 480 230 520 C228 540 222 560 215 590 C208 640 208 700 212 740 C218 780 235 810 240 840 C235 880 232 920 240 950 C250 990 268 1020 270 1050 C268 1090 245 1120 240 1145 C245 1170 260 1185 272 1190 C290 1175 305 1130 312 1100"/>
      <path d="M418 400 C412 440 402 480 405 520 C408 540 412 560 418 590 C425 640 425 700 422 740 C415 780 400 810 398 840 C402 880 402 920 395 950 C385 990 365 1020 362 1050 C365 1090 385 1120 392 1145 C388 1170 372 1185 358 1190 C342 1175 328 1130 320 1100"/>
      <path d="M225 535 C240 545 250 560 258 580 M405 535 C392 545 382 560 372 580"/>
      <path d="M280 600 C290 610 300 622 308 635 M348 600 C340 610 332 622 325 635"/>
      <path d="M316 685 C300 700 298 760 300 820 C302 880 312 920 320 960 C325 1000 318 1050 312 1100 M316 685 C330 700 335 760 332 820 C330 880 322 920 314 960 C308 1000 314 1050 320 1100"/>
      <path d="M245 840 C255 855 268 860 280 858 M285 835 L290 860 M340 845 L345 865 M372 835 C378 840 380 845 378 850"/>
      <path d="M245 1150 L262 1172 M388 1150 L372 1172"/>
    </g>
  </svg>
<span class="t" style="left:78.40px;top:791.00px;font-size:13px;line-height:13px;font-weight:700;color:#111;letter-spacing:0.277px;">Anatomy Atlas Notes</span>
<span class="t" style="left:572.00px;top:1207.96px;font-size:9.5px;line-height:9.5px;font-weight:400;color:#8a8d92;letter-spacing:0.365px;">Clear</span>
</div></div>
</body>
</html>
